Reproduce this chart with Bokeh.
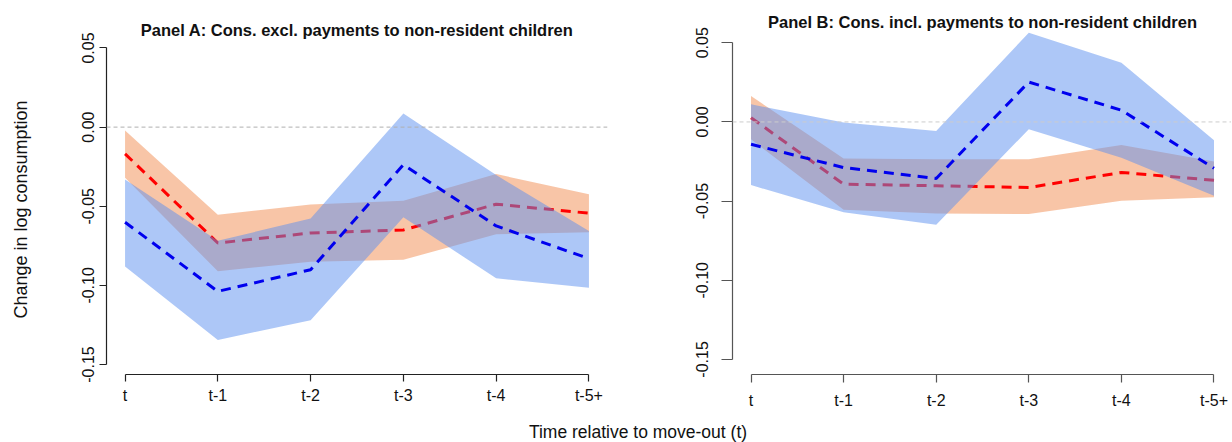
import math
from bokeh.plotting import figure
from bokeh.models import FixedTicker, Label, Span
from bokeh.layouts import row, column
from bokeh.embed import file_html
from bokeh.resources import INLINE

# ---------------- data ----------------
periods = ["t", "t-1", "t-2", "t-3", "t-4", "t-5+"]
ytick_values = [-0.15, -0.10, -0.05, 0.00, 0.05]
ytick_labels = ["-0.15", "-0.10", "-0.05", "0.00", "0.05"]

title_a = "Panel A: Cons. excl. payments to non-resident children"
title_b = "Panel B: Cons. incl. payments to non-resident children"
y_label = "Change in log consumption"
x_label = "Time relative to move-out (t)"

# Panel A
a_red = [-0.0169, -0.0732, -0.0669, -0.0650, -0.0487, -0.0544]
a_red_hi = [-0.0021, -0.0553, -0.0489, -0.0466, -0.0297, -0.0424]
a_red_lo = [-0.0320, -0.0911, -0.0850, -0.0838, -0.0677, -0.0664]
a_blue = [-0.0601, -0.1038, -0.0901, -0.0238, -0.0624, -0.0831]
a_blue_hi = [-0.0331, -0.0718, -0.0578, 0.0086, -0.0303, -0.0656]
a_blue_lo = [-0.0880, -0.1345, -0.1220, -0.0570, -0.0955, -0.1015]

# Panel B
b_red = [0.0027, -0.0393, -0.0403, -0.0414, -0.0319, -0.0368]
b_red_hi = [0.0164, -0.0231, -0.0235, -0.0235, -0.0145, -0.0250]
b_red_lo = [-0.0110, -0.0555, -0.0578, -0.0582, -0.0498, -0.0475]
b_blue = [-0.0141, -0.0288, -0.0357, 0.0252, 0.0074, -0.0292]
b_blue_hi = [0.0111, -0.0004, -0.0057, 0.0563, 0.0374, -0.0116]
b_blue_lo = [-0.0399, -0.0570, -0.0649, -0.0046, -0.0226, -0.0466]

# ---------------- style ----------------
FONT = "Liberation Sans"
ORANGE = "#F28C50"
BLUE_BAND = "#5B8FF0"
RED = "#FF0000"
BLUE = "#0000EE"
DASH = "10 7"
TEXT = "#111111"

ROW_H = 419
TOP = 3       # common top border of the row's plots
BOTTOM = 45   # common bottom border of the row's plots (frame bottom at 374)

xs = list(range(len(periods)))


def make_panel(width, left, right, x_end, y_start, y_end,
               red, red_lo, red_hi, blue, blue_lo, blue_hi, axis_color,
               ytick_out, ystandoff, xtick_out, xstandoff, zero_color):
    p = figure(width=width, height=ROW_H, x_range=(-0.2, x_end),
               y_range=(y_start, y_end), output_backend="svg",
               toolbar_location=None, title=None,
               min_border_left=left, min_border_right=right,
               min_border_top=TOP, min_border_bottom=BOTTOM)
    p.outline_line_color = None
    p.xgrid.visible = False
    p.ygrid.visible = False
    p.background_fill_color = "white"
    p.border_fill_color = "white"

    p.add_layout(Span(location=0, dimension="width", line_color=zero_color,
                      line_width=1, line_dash="4 3"))

    p.varea(x=xs, y1=red_lo, y2=red_hi, fill_color=ORANGE, fill_alpha=0.5)
    p.line(x=xs, y=red, line_color=RED, line_width=3, line_dash=DASH)
    p.varea(x=xs, y1=blue_lo, y2=blue_hi, fill_color=BLUE_BAND, fill_alpha=0.5)
    p.line(x=xs, y=blue, line_color=BLUE, line_width=3, line_dash=DASH)

    # axes
    p.xaxis.ticker = FixedTicker(ticks=xs)
    p.xaxis.major_label_overrides = {i: lab for i, lab in zip(xs, periods)}
    p.xaxis.bounds = (xs[0], xs[-1])
    p.yaxis.ticker = FixedTicker(ticks=ytick_values)
    p.yaxis.major_label_overrides = {v: lab for v, lab in zip(ytick_values, ytick_labels)}
    p.yaxis.bounds = (ytick_values[0], ytick_values[-1])
    p.yaxis.major_label_orientation = "vertical"
    for ax in (p.xaxis[0], p.yaxis[0]):
        ax.axis_line_color = axis_color
        ax.major_tick_line_color = axis_color
        ax.minor_tick_line_color = None
        ax.major_tick_in = 0
        ax.major_label_text_font = FONT
        ax.major_label_text_font_size = "16px"
        ax.major_label_text_color = TEXT
        ax.axis_line_width = 1.2
        ax.major_tick_line_width = 1.2
    p.yaxis.major_tick_out = ytick_out
    p.yaxis.major_label_standoff = ystandoff
    p.xaxis.major_tick_out = xtick_out
    p.xaxis.major_label_standoff = xstandoff
    return p


def blank(width, height, top, bottom):
    f = figure(width=width, height=height, output_backend="svg",
               toolbar_location=None, title=None, x_axis_type=None,
               y_axis_type=None, min_border_left=0, min_border_right=0,
               min_border_top=top, min_border_bottom=bottom)
    f.outline_line_color = None
    f.xgrid.visible = False
    f.ygrid.visible = False
    return f


# left strip holding the y-axis title (page x 0..40), frame y 3..374
ystrip = blank(40, ROW_H, TOP, BOTTOM)
ystrip.add_layout(Label(x=20, y=165, x_units="screen", y_units="screen",
                        text=y_label, text_font=FONT, text_font_size="18px",
                        angle=math.pi / 2, text_align="center",
                        text_baseline="middle", text_color=TEXT))

# Panel A (page x 40..620): frame x 106..607
pA = make_panel(580, 66, 13, 5.2, -0.1563, 0.0781, a_red, a_red_lo, a_red_hi,
                a_blue, a_blue_lo, a_blue_hi, "#222222", 7, 5, 7, 5, "#b0b0b0")
pA.add_layout(Label(x=250.6, y=344.5, x_units="screen", y_units="screen",
                    text=title_a, text_font=FONT, text_font_size="16.5px",
                    text_font_style="bold", text_align="center",
                    text_baseline="middle", text_color=TEXT))

# Panel B (page x 620..1231): frame x 732..1231
pB = make_panel(611, 112, 0, 5.189, -0.1595, 0.0748, b_red, b_red_lo, b_red_hi,
                b_blue, b_blue_lo, b_blue_hi, "#555555", 11, 13, 8, 9, "#cccccc")
pB.add_layout(Label(x=250, y=352.5, x_units="screen", y_units="screen",
                    text=title_b, text_font=FONT, text_font_size="16.5px",
                    text_font_style="bold", text_align="center",
                    text_baseline="middle", text_color=TEXT))

# bottom strip for the shared x-axis title (page y 419..442)
xstrip = blank(1231, 23, 0, 0)
xstrip.add_layout(Label(x=637.5, y=11, x_units="screen", y_units="screen",
                        text=x_label, text_font=FONT, text_font_size="17.5px",
                        text_align="center", text_baseline="middle",
                        text_color=TEXT))

layout = column(row(ystrip, pA, pB), xstrip)

open("out.html", "w").write(file_html(layout, INLINE))
